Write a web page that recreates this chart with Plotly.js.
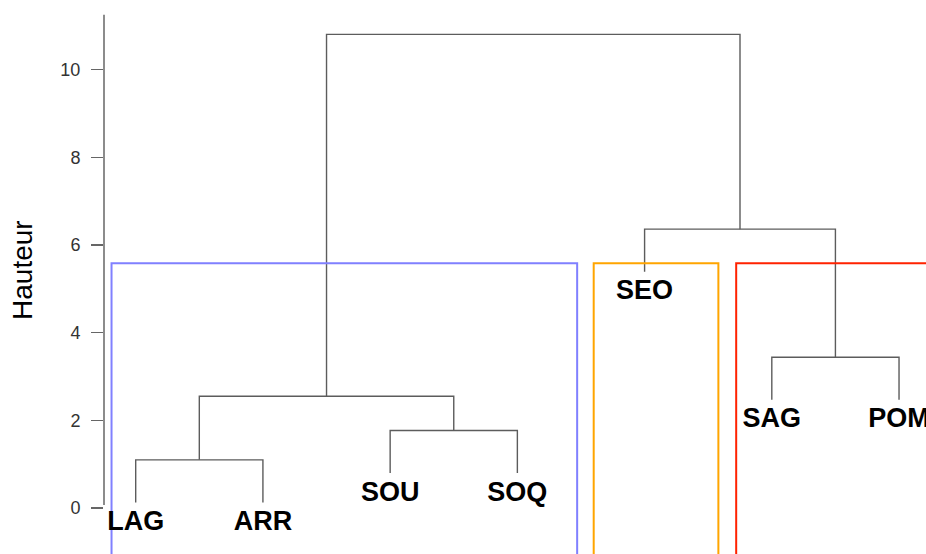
<!DOCTYPE html>
<html>
<head>
<meta charset="utf-8">
<script src="https://cdn.plot.ly/plotly-3.0.1.min.js"></script>
<style>
  html, body { margin: 0; padding: 0; background: #fff; }
  #plot { width: 926px; height: 554px; }
</style>
</head>
<body>
<div id="plot"></div>
<script>
// Dendrogram (hclust style) with 3 clusters boxed
var leafLabels = ['LAG', 'ARR', 'SOU', 'SOQ', 'SEO', 'SAG', 'POM'];

// merge steps like R's hclust: negative = leaf number, positive = earlier step
var mergeLeft = [-1, -3, 1, -6, -5, 3];
var mergeRight = [-2, -4, 2, -7, 4, 5];
var mergeHeight = [1.10, 1.77, 2.55, 3.44, 6.36, 10.80];

// cluster boxes (rect.hclust)
var clusterColors = ['#8080FF', '#FFA500', '#FF2200'];
var clusterLeft = [0.81, 4.60, 5.72];
var clusterRight = [4.47, 5.58, 7.60];
var clusterTop = 5.58;

var yTicks = [0, 2, 4, 6, 8, 10];

function drawPlot() {
    var hang = 0.1 * (Math.max.apply(null, mergeHeight) - Math.min.apply(null, mergeHeight));
    var nodeX = [];

    function childX(c) {
        return c < 0 ? -c : nodeX[c - 1];
    }
    function childY(c, h) {
        return c < 0 ? h - hang : mergeHeight[c - 1];
    }

    var segX = [], segY = [];
    var leafX = [], leafY = [], leafText = [];

    for (var i = 0; i < mergeHeight.length; i++) {
        var h = mergeHeight[i];
        var l = mergeLeft[i], r = mergeRight[i];
        var xl = childX(l), xr = childX(r);
        var yl = childY(l, h), yr = childY(r, h);
        nodeX.push((xl + xr) / 2);
        segX.push(xl, xl, xr, xr, null);
        segY.push(yl, h, h, yr, null);
        [[l, xl, yl], [r, xr, yr]].forEach(function (c) {
            if (c[0] < 0) {
                leafX.push(c[1]);
                leafY.push(c[2]);
                leafText.push(leafLabels[-c[0] - 1]);
            }
        });
    }

    // label offset below the end of each leaf, ~21px
    var yRange = [-1.047, 11.584];
    var pxPerUnit = 554 / (yRange[1] - yRange[0]);
    var labelDrop = 21 / pxPerUnit;

    var traces = [{
        x: segX,
        y: segY,
        type: 'scatter',
        mode: 'lines',
        line: { color: '#5c5c5c', width: 1.4 },
        hoverinfo: 'skip',
        showlegend: false
    }];

    for (var k = 0; k < clusterColors.length; k++) {
        var bottom = yRange[0] - 1;
        traces.push({
            x: [clusterLeft[k], clusterLeft[k], clusterRight[k], clusterRight[k], clusterLeft[k]],
            y: [bottom, clusterTop, clusterTop, bottom, bottom],
            type: 'scatter',
            mode: 'lines',
            line: { color: clusterColors[k], width: 2 },
            hoverinfo: 'skip',
            showlegend: false
        });
    }

    traces.push({
        x: leafX,
        y: leafY.map(function (v) { return v - labelDrop; }),
        text: leafText,
        type: 'scatter',
        mode: 'text',
        textposition: 'middle center',
        textfont: { family: 'Liberation Sans, Arial, sans-serif', size: 27, color: '#000', weight: 'bold' },
        cliponaxis: false,
        hoverinfo: 'skip',
        showlegend: false
    });

    var layout = {
        width: 926,
        height: 554,
        margin: { l: 104, r: 0, t: 0, b: 0 },
        paper_bgcolor: '#fff',
        plot_bgcolor: '#fff',
        xaxis: {
            range: [0.7508, 7.212],
            visible: false,
            fixedrange: true
        },
        yaxis: {
            range: yRange,
            tickvals: yTicks,
            ticktext: yTicks.map(String),
            ticks: 'outside',
            ticklen: 12,
            tickwidth: 1.3,
            tickcolor: '#666',
            ticklabelstandoff: 7,
            showgrid: false,
            zeroline: false,
            showline: false,
            tickfont: { family: 'Liberation Sans, Arial, sans-serif', size: 18, color: '#333' },
            fixedrange: true
        },
        shapes: [{
            type: 'line',
            xref: 'paper', yref: 'y',
            x0: 0, x1: 0, y0: 0.07, y1: 11.25,
            line: { color: '#666', width: 1.5 }
        }],
        annotations: [{
            text: 'Hauteur',
            xref: 'paper', yref: 'y',
            x: (23 - 104) / 822, y: 5.43,
            xanchor: 'center', yanchor: 'middle',
            textangle: -90,
            showarrow: false,
            font: { family: 'Liberation Sans, Arial, sans-serif', size: 28, color: '#000' }
        }]
    };

    Plotly.newPlot('plot', traces, layout, { displayModeBar: false, staticPlot: true });
}

document.addEventListener('DOMContentLoaded', function () {
    drawPlot();
});
</script>
</body>
</html>
